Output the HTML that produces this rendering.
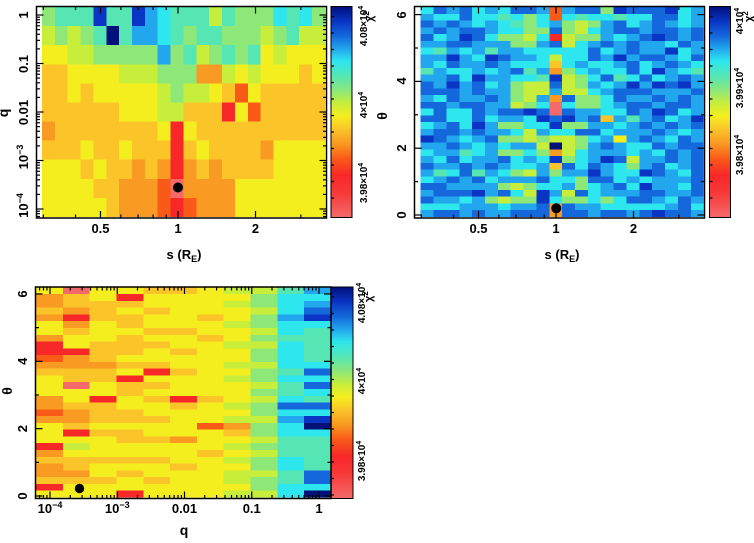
<!DOCTYPE html>
<html><head><meta charset="utf-8">
<style>
html,body{margin:0;padding:0;background:#fff;}
svg{display:block;font-family:"Liberation Sans","DejaVu Sans",sans-serif;font-weight:bold;}
</style></head><body>
<svg id="S" width="754" height="543" viewBox="0 0 754 543" xmlns="http://www.w3.org/2000/svg">
<defs>
<linearGradient id="cb" x1="0" y1="0" x2="0" y2="1">
<stop offset="0" stop-color="#00107a"/>
<stop offset="0.07" stop-color="#0a34c4"/>
<stop offset="0.14" stop-color="#1468dc"/>
<stop offset="0.20" stop-color="#22a6ee"/>
<stop offset="0.26" stop-color="#2ee6ee"/>
<stop offset="0.33" stop-color="#55e6b4"/>
<stop offset="0.40" stop-color="#8ee878"/>
<stop offset="0.46" stop-color="#c8ee3c"/>
<stop offset="0.52" stop-color="#f5ee1e"/>
<stop offset="0.58" stop-color="#fbc52a"/>
<stop offset="0.65" stop-color="#f99a22"/>
<stop offset="0.72" stop-color="#fa5a18"/>
<stop offset="0.80" stop-color="#f82828"/>
<stop offset="0.88" stop-color="#f83838"/>
<stop offset="1" stop-color="#f46a6a"/>
</linearGradient>
</defs>
<rect x="0" y="0" width="754" height="543" fill="#fff"/>
<g id="h1" shape-rendering="crispEdges"></g>
<g id="h2" shape-rendering="crispEdges"></g>
<g id="h3" shape-rendering="crispEdges"></g>

<rect x="331" y="6.5" width="21" height="211" fill="url(#cb)" stroke="#000" stroke-width="1"/>
<rect x="709.5" y="6.5" width="21" height="211" fill="url(#cb)" stroke="#000" stroke-width="1"/>
<rect x="331" y="287" width="22" height="211.5" fill="url(#cb)" stroke="#000" stroke-width="1"/>

<g id="tk" stroke="#000" stroke-width="1.2"></g>

<rect x="36.5" y="6.5" width="290" height="211.5" fill="none" stroke="#000" stroke-width="1.5"/>
<rect x="414.5" y="6.5" width="290" height="211.5" fill="none" stroke="#000" stroke-width="1.5"/>
<rect x="35.5" y="287" width="295.5" height="211.5" fill="none" stroke="#000" stroke-width="1.5"/>

<circle cx="178" cy="187.5" r="5" fill="#000"/>
<circle cx="556.3" cy="208.3" r="5" fill="#000"/>
<circle cx="79.5" cy="488.5" r="4.7" fill="#000"/>

<g font-size="13" fill="#000">
<text transform="translate(28,15) rotate(-90)" text-anchor="middle">1</text>
<text transform="translate(28,64) rotate(-90)" text-anchor="middle">0.1</text>
<text transform="translate(28,112.5) rotate(-90)" text-anchor="middle">0.01</text>
<text transform="translate(28,157) rotate(-90)" text-anchor="middle">10<tspan dy="-5" font-size="9">−3</tspan></text>
<text transform="translate(28,205.5) rotate(-90)" text-anchor="middle">10<tspan dy="-5" font-size="9">−4</tspan></text>
<text x="100.5" y="233" text-anchor="middle">0.5</text>
<text x="178" y="233" text-anchor="middle">1</text>
<text x="255.5" y="233" text-anchor="middle">2</text>
<text x="184" y="259" text-anchor="middle">s (R<tspan dy="3" font-size="9">E</tspan><tspan dy="-3">)</tspan></text>
<text transform="translate(8,113) rotate(-90)" text-anchor="middle" font-size="14">q</text>

<text transform="translate(406,215) rotate(-90)" text-anchor="middle">0</text>
<text transform="translate(406,148) rotate(-90)" text-anchor="middle">2</text>
<text transform="translate(406,81) rotate(-90)" text-anchor="middle">4</text>
<text transform="translate(406,15) rotate(-90)" text-anchor="middle">6</text>
<text x="478.5" y="233" text-anchor="middle">0.5</text>
<text x="556" y="233" text-anchor="middle">1</text>
<text x="633.5" y="233" text-anchor="middle">2</text>
<text x="562" y="259" text-anchor="middle">s (R<tspan dy="3" font-size="9">E</tspan><tspan dy="-3">)</tspan></text>
<text transform="translate(387,116) rotate(-90)" text-anchor="middle" font-size="14">θ</text>

<text transform="translate(27,496) rotate(-90)" text-anchor="middle">0</text>
<text transform="translate(27,428.7) rotate(-90)" text-anchor="middle">2</text>
<text transform="translate(27,361.3) rotate(-90)" text-anchor="middle">4</text>
<text transform="translate(27,294) rotate(-90)" text-anchor="middle">6</text>
<text x="50" y="513" text-anchor="middle">10<tspan dy="-5" font-size="9">−4</tspan></text>
<text x="117.25" y="513" text-anchor="middle">10<tspan dy="-5" font-size="9">−3</tspan></text>
<text x="184.5" y="513" text-anchor="middle">0.01</text>
<text x="251.75" y="513" text-anchor="middle">0.1</text>
<text x="319" y="513" text-anchor="middle">1</text>
<text x="184" y="535" text-anchor="middle" font-size="14">q</text>
<text transform="translate(12,391) rotate(-90)" text-anchor="middle" font-size="14">θ</text>
</g>

<g font-size="10" fill="#000">
<text transform="translate(367,26) rotate(-90)" text-anchor="middle">4.08×10<tspan dy="-4" font-size="7">4</tspan></text>
<text transform="translate(367,105) rotate(-90)" text-anchor="middle">4×10<tspan dy="-4" font-size="7">4</tspan></text>
<text transform="translate(367,183) rotate(-90)" text-anchor="middle">3.98×10<tspan dy="-4" font-size="7">4</tspan></text>
<text transform="translate(373,22) rotate(-90)" font-size="11">χ<tspan dy="-4" font-size="8">2</tspan></text>

<text transform="translate(743,21) rotate(-90)" text-anchor="middle">4×10<tspan dy="-4" font-size="7">4</tspan></text>
<text transform="translate(743,88) rotate(-90)" text-anchor="middle">3.99×10<tspan dy="-4" font-size="7">4</tspan></text>
<text transform="translate(743,155) rotate(-90)" text-anchor="middle">3.98×10<tspan dy="-4" font-size="7">4</tspan></text>
<text transform="translate(752,22) rotate(-90)" font-size="11">χ<tspan dy="-4" font-size="8">2</tspan></text>

<text transform="translate(365,303) rotate(-90)" text-anchor="middle">4.08×10<tspan dy="-4" font-size="7">4</tspan></text>
<text transform="translate(365,381) rotate(-90)" text-anchor="middle">4×10<tspan dy="-4" font-size="7">4</tspan></text>
<text transform="translate(365,461) rotate(-90)" text-anchor="middle">3.98×10<tspan dy="-4" font-size="7">4</tspan></text>
<text transform="translate(372,302) rotate(-90)" font-size="11">χ<tspan dy="-4" font-size="8">2</tspan></text>
</g>
</svg>
<script>
(function(){
var NS='http://www.w3.org/2000/svg';
var P={'0':'#f46a6a','1':'#f82828','2':'#fa5a18','3':'#f99a22','4':'#fbc52a','5':'#f5ee1e','6':'#c8ee3c','7':'#8ee878','8':'#55e6b4','9':'#2ee6ee','a':'#22a6ee','b':'#1468dc','c':'#0a34c4','d':'#00127a'};
function R(g,x,y,w,h,f){var e=document.createElementNS(NS,'rect');e.setAttribute('x',x.toFixed(2));e.setAttribute('y',y.toFixed(2));e.setAttribute('width',w.toFixed(2));e.setAttribute('height',h.toFixed(2));e.setAttribute('fill',f);g.appendChild(e);}
function heat(id,x0,y0,w,h,rows,nc,nr){var g=document.getElementById(id);var xm=x0+nc*w,ym=y0+nr*h;
for(var r=0;r<nr;r++){var row=(rows[r]||'').replace(/\s/g,'');for(var c=0;c<nc;c++){var x=x0+c*w,y=y0+r*h;var ch=row.charAt(c);
R(g,x,y,Math.min(w+0.6,xm-x),Math.min(h+0.6,ym-y),P[ch]||'#2ea0ee');}}}
var p1=[
"7888c88ca9888687779897",
"67678d8aa9878877767866",
"556677777a786787856555",
"4455556667773365655545",
"4454555556766542544444",
"4444445556644415244444",
"3444444445154444444444",
"4445445444145444435555",
"5554544343134344445555",
"5555443332033335555555",
"5555543332123335555555"];
heat('h1',42,7,12.86,19.09,p1,22,11);
var p2=[
"9bab9a9bba2abb7cbbbc9a",
"a99b99897929899899bb9a",
"baba9a9879a767ab9aba9a",
"ababba9977b769abbabbab",
"b9acb977691677a9abcbab",
"aabbaaa77ab69ababaa9ba",
"98a9a8aa99999b9abaac9a",
"aaca9cbaa9699bacabba9b",
"a9baaba99949a99ab9aba9",
"8a99a9ab8a379a99b9ca98",
"aab9caa998c679b89b9aba",
"bacab9a766b67a9acacbca",
"bbbabaa766a669abbbaaab",
"a9baaba76a3b779baababa",
"bbabbaa67909779abbabba",
"9b99babbcb0baa99bacb9a",
"bb99b9aa9cbcab4a8ab9ac",
"9ab9ca7799c77aa9ababab",
"abbabaa96a99bb9aaaba9a",
"cba9ab77676679a5aba9ba",
"aaba9a9aa6d67aba99babb",
"9aa89a7797369aaa9a9bab",
"a9b9aab9a9c79acb6aabab",
"baababa99a4b9ba97ab9ab",
"a89b8a976a7aaca99cba9b",
"9abab9aaab997bb9a9aaab",
"bbaaaa76799a79ab9caa9b",
"abbbcab96ca6b9aaabbaab",
"baa9a7677c977979bba9ba",
"999aaa9aab3baa99999ab9",
"abbabaabbb3bbabbabcbba"];
heat('h2',420.7,7,12.86,6.774,p2,22,31);
var c3=[
"5334355311234555332355513433415",
"0443134551334405543341565443455",
"5544455544434455144454555455455",
"5145445444 5451445544 5445545455 1",
"4554554545 5415454554 5545545545 5",
"4555554554 5545551455 5535554555 5",
"5555455455 5555554555 2555455555 5",
"6565565565 5656555656 3456565665 6",
"6776776767 7677676776 7767677677 6",
"8999a99899 9989889b9a 9988899889 9",
"a9abc98888 89b9b98b9c d988888bb9 d"];
for(var i=0;i<c3.length;i++)c3[i]=c3[i].replace(/\s/g,'');
var p3=[];for(var r=0;r<31;r++){var s='';for(var c=0;c<11;c++){s+=c3[c].charAt(r)||'5';}p3.push(s);}
heat('h3',36,287.3,26.82,6.78,p3,11,31);

var tk=document.getElementById('tk');
function L(x1,y1,x2,y2){var e=document.createElementNS(NS,'line');e.setAttribute('x1',x1);e.setAttribute('y1',y1);e.setAttribute('x2',x2);e.setAttribute('y2',y2);tk.appendChild(e);}
function lg(v){return Math.log(v)/Math.LN10;}
for(var e=-5;e<=0;e++){for(var m=1;m<=9;m++){var v=m*Math.pow(10,e),ln=(m==1?7:3.5);
 var y=15-48.5*lg(v);if(y>=7&&y<=217.5){L(36.5,y,36.5+ln,y);L(326.5,y,326.5-ln,y);}
 var x=50+67.25*(lg(v)+4);if(x>=36&&x<=330.5){L(x,498.5,x,498.5-ln);L(x,287,x,287+ln);}
}}
function sT(s,ln){var x=178+257.5*lg(s);[0,378].forEach(function(o){L(x+o,218,x+o,218-ln);L(x+o,6.5,x+o,6.5+ln);});}
[0.5,1,2].forEach(function(s){sT(s,7);});
[0.3,0.4,0.6,0.7,0.8,0.9,3].forEach(function(s){sT(s,3.5);});
for(var t=0;t<=6;t++){var ln=(t%2==0?7:3.5);var y=215-33.4*t;L(414.5,y,414.5+ln,y);L(704.5,y,704.5-ln,y);
 var y3=496-33.67*t;L(35.5,y3,35.5+ln,y3);L(331,y3,331-ln,y3);}
[[331,6.5,217.5],[709.5,6.5,217.5],[331,287,498.5]].forEach(function(c){for(var y=c[1]+10;y<c[2]-3;y+=16.5){L(c[0],y,c[0]+3,y);}});
})();
</script>
</body></html>
